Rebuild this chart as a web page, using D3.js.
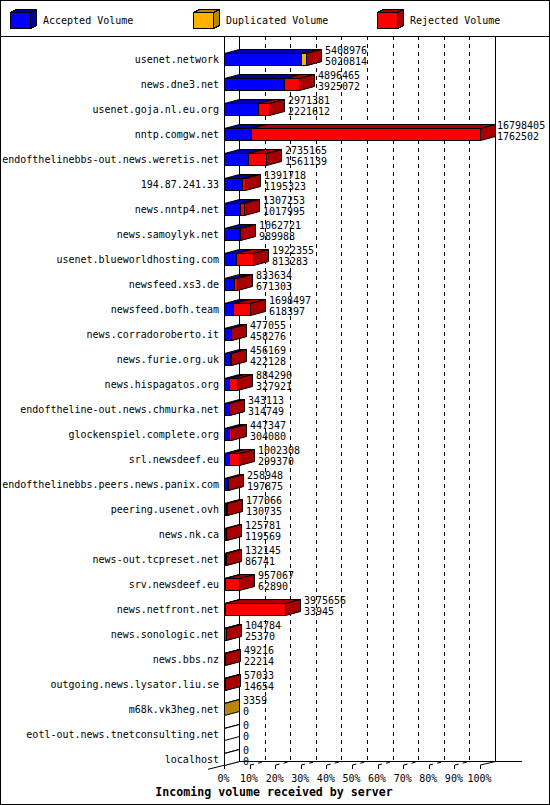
<!DOCTYPE html>
<html><head><meta charset="utf-8">
<script src="https://cdn.jsdelivr.net/npm/d3@7"></script>
<style>
html,body{margin:0;padding:0;background:#fff;}
svg text{font-family:"DejaVu Sans Mono","Liberation Mono",monospace;}
</style>
</head><body>
<script>
const servers = ["usenet.network","news.dne3.net","usenet.goja.nl.eu.org","nntp.comgw.net",
"endofthelinebbs-out.news.weretis.net","194.87.241.33","news.nntp4.net","news.samoylyk.net",
"usenet.blueworldhosting.com","newsfeed.xs3.de","newsfeed.bofh.team","news.corradoroberto.it",
"news.furie.org.uk","news.hispagatos.org","endoftheline-out.news.chmurka.net","glockenspiel.complete.org",
"srl.newsdeef.eu","endofthelinebbs.peers.news.panix.com","peering.usenet.ovh","news.nk.ca",
"news-out.tcpreset.net","srv.newsdeef.eu","news.netfront.net","news.sonologic.net","news.bbs.nz",
"outgoing.news.lysator.liu.se","m68k.vk3heg.net","eotl-out.news.tnetconsulting.net","localhost"];
const accepted = [5020814,3925072,2221612,1762502,1561139,1195323,1017995,989988,813283,671303,618397,
458276,422128,327921,314749,304080,299370,197875,130735,119569,86741,62890,33945,25370,22214,14654,0,0,0];
const duplicated = [370000,0,0,0,0,0,0,0,0,0,0,0,0,0,0,0,0,0,0,0,0,0,0,0,0,0,3359,0,0];
const rejected = [18162,971393,749769,15035903,1174026,196395,289258,72733,1109072,162331,1080100,
18779,34041,556369,28364,143267,702938,61073,46331,6212,45404,894177,3941711,79414,27002,42379,0,0,0];
const tickLabels = ["0%","10%","20%","30%","40%","50%","60%","70%","80%","90%","100%"];
const seriesNames = ["Accepted Volume","Duplicated Volume","Rejected Volume"];
const frontColors = ["#0000ff","#ffb000","#ff0000"];
const darkColors = ["#0000a8","#b8860b","#a80000"];

const W = 550, H = 805;
const DX = 15, DY = -4, HALF = 6;
const svg = d3.select("body").append("svg").attr("width", W).attr("height", H)
  .style("display","block");

const totals = servers.map((s,i)=>accepted[i]+duplicated[i]+rejected[i]);
const x = d3.scaleLinear().domain([0, d3.max(totals)]).range([224.5, 480.5]);
const xp = d3.scaleLinear().domain([0, 100]).range([224.5, 480.5]);
const y = d3.scalePoint().domain(servers).range([59, 759]);

const TOP = 36, FLOOR_F = 765, FLOOR_B = 761;

// frame
svg.append("rect").attr("x",0.5).attr("y",0.5).attr("width",W-1).attr("height",H-1)
  .attr("fill","#fff").attr("stroke","#000");
svg.append("line").attr("x1",0).attr("x2",W).attr("y1",TOP+0.5).attr("y2",TOP+0.5).attr("stroke","#000");

// legend
const legX = [10, 193, 377];
seriesNames.forEach((n,k)=>{
  const g = svg.append("g").attr("shape-rendering","crispEdges");
  const x0 = legX[k]+0.5, x1 = x0+20, y0 = 12.5, y1 = 28.5, dx=6, dy=-3;
  g.append("polygon").attr("points",[[x0,y0],[x1,y0],[x1+dx,y0+dy],[x0+dx,y0+dy]].join(" "))
    .attr("fill",darkColors[k]).attr("stroke","#000");
  g.append("polygon").attr("points",[[x1,y0],[x1+dx,y0+dy],[x1+dx,y1+dy],[x1,y1]].join(" "))
    .attr("fill",darkColors[k]).attr("stroke","#000");
  g.append("rect").attr("x",x0).attr("y",y0).attr("width",20).attr("height",16)
    .attr("fill",frontColors[k]).attr("stroke","#000");
  svg.append("text").attr("x",legX[k]+33).attr("y",24).attr("font-size",10).text(n);
});

// walls & grid
const grid = svg.append("g").attr("stroke","#000").attr("shape-rendering","crispEdges");
grid.append("line").attr("x1",224.5).attr("x2",224.5).attr("y1",TOP).attr("y2",FLOOR_F);
tickLabels.forEach((t,k)=>{
  const xb = xp(k*10)+DX;
  grid.append("line").attr("x1",xb).attr("x2",xb).attr("y1",TOP).attr("y2",FLOOR_B)
    .attr("stroke-dasharray",(k===0||k===10)?null:"4,4");
});
grid.append("line").attr("x1",224.5+DX).attr("x2",522).attr("y1",FLOOR_B+0.5).attr("y2",FLOOR_B+0.5);
const floor = svg.append("g").attr("stroke","#000");
floor.append("line").attr("x1",208).attr("y1",769.3).attr("x2",224.5+DX).attr("y2",FLOOR_B+0.5);
floor.append("line").attr("x1",xp(100)).attr("y1",FLOOR_F).attr("x2",xp(100)+DX).attr("y2",FLOOR_B+0.5);
tickLabels.forEach((t,k)=>{
  const xf = xp(k*10);
  floor.append("line").attr("x1",xf).attr("x2",xf).attr("y1",FLOOR_F).attr("y2",769)
    .attr("shape-rendering","crispEdges");
  if(k>0 && k<10) floor.append("line").attr("x1",xf).attr("y1",FLOOR_F).attr("x2",xf+DX).attr("y2",FLOOR_B+0.5)
    .attr("stroke-dasharray","4,4");
  svg.append("text").attr("x",xf-1).attr("y",782).attr("text-anchor","middle").attr("font-size",10).text(t);
});

// bars
const bars = svg.append("g");
function box(g, x0, x1, c, front, dark){
  const t = c-HALF+0.5, b = c+HALF+0.5;
  g.append("polygon").attr("points",[[x0,t],[x1,t],[x1+DX,t+DY],[x0+DX,t+DY]].join(" "))
    .attr("fill",dark).attr("stroke","#000");
  g.append("polygon").attr("points",[[x1,t],[x1+DX,t+DY],[x1+DX,b+DY],[x1,b]].join(" "))
    .attr("fill",dark).attr("stroke","#000");
  if (x1 > x0) g.append("rect").attr("x",x0).attr("y",t).attr("width",x1-x0).attr("height",b-t)
    .attr("fill",front).attr("stroke","#000");
}
servers.forEach((s,i)=>{
  const c = y(s);
  const vals = [accepted[i], duplicated[i], rejected[i]];
  let cum = 0;
  let xr = x(0);
  if (totals[i] === 0) {
    box(bars, x(0), x(0), c, "#fff", "#fff");
  } else {
    vals.forEach((v,k)=>{
      if (v<=0) return;
      const x0 = Math.round(x(cum)-0.5)+0.5;
      cum += v;
      const x1 = Math.round(x(cum)-0.5)+0.5;
      box(bars, x0, x1, c, frontColors[k], darkColors[k]);
      xr = x1;
    });
  }
  svg.append("text").attr("x",219).attr("y",c+4).attr("text-anchor","end").attr("font-size",10).text(s);
  const lx = Math.min(xr + DX + 3.5, 497);
  svg.append("text").attr("x",lx).attr("y",c-5).attr("font-size",10).text(totals[i]);
  svg.append("text").attr("x",lx).attr("y",c+6).attr("font-size",10).text(accepted[i]);
});

svg.append("text").attr("x",274).attr("y",796).attr("text-anchor","middle")
  .attr("font-size",11.6).attr("font-weight","bold").text("Incoming volume received by server");
</script>
</body></html>
